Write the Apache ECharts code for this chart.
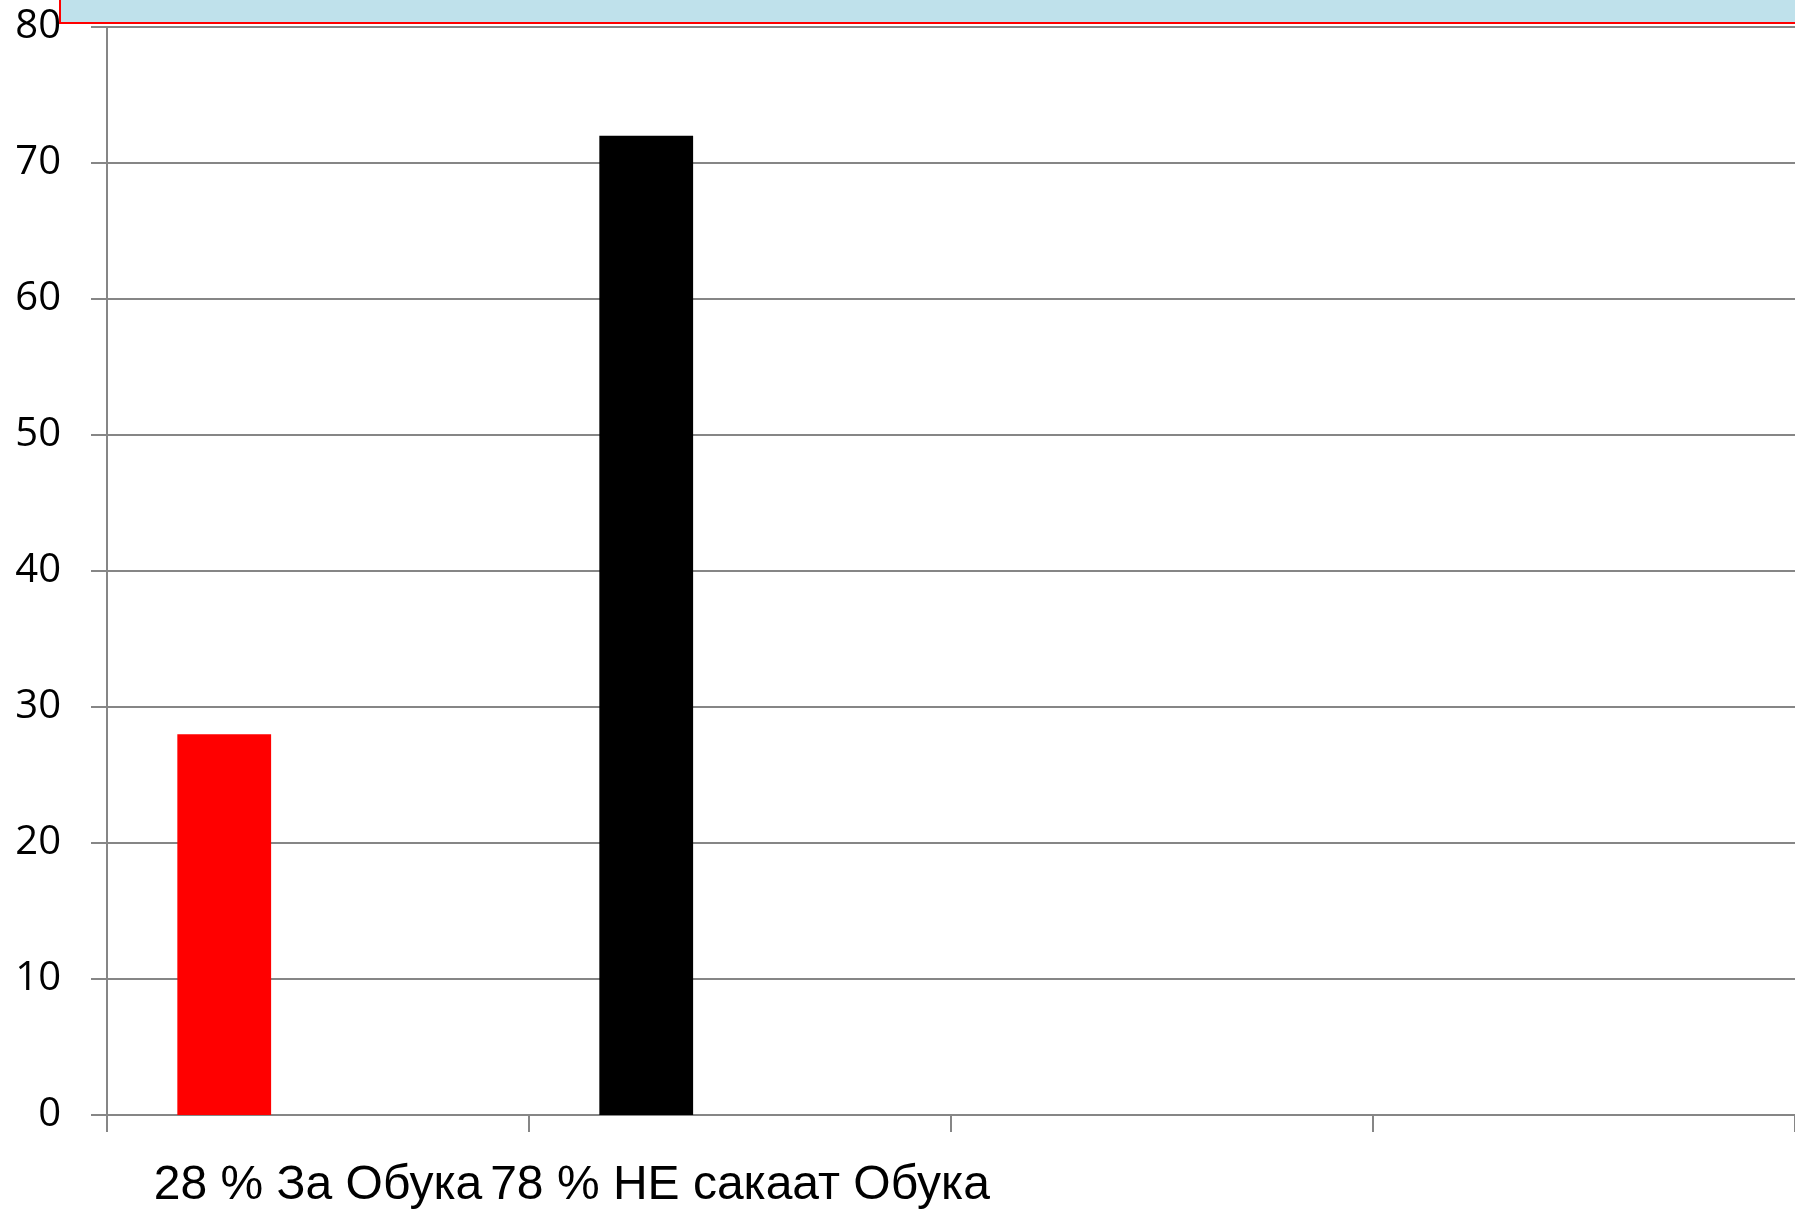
<!DOCTYPE html>
<html>
<head>
<meta charset="utf-8">
<script src="https://cdn.jsdelivr.net/npm/echarts@6/dist/echarts.min.js"></script>
<style>
html,body{margin:0;padding:0;background:#fff;}
#chart{width:1795px;height:1212px;}
</style>
</head>
<body>
<div id="chart"></div>
<script>
// Data
const categories = ['28 % За Обука', '78 % НЕ сакаат Обука', '', ''];
const series1Values = [28, 72];
const series2Values = [];
const series3Values = [];
const yTicks = { min: 0, max: 80, interval: 10 };

// Styles
const pointColors = ['#FF0000', '#000000'];
const axisGray = '#868686';

const chart = echarts.init(document.getElementById('chart'));
chart.setOption({
  animation: false,
  backgroundColor: '#ffffff',
  grid: { left: 107, right: -6, top: 27, bottom: 97, containLabel: false },
  xAxis: {
    type: 'category',
    data: categories,
    boundaryGap: true,
    axisLine: { show: true, lineStyle: { color: axisGray, width: 2 } },
    axisTick: { show: true, alignWithLabel: false, interval: 0, length: 17, lineStyle: { color: axisGray, width: 2 } },
    axisLabel: {
      interval: 0, margin: 47, color: '#000', fontSize: 48,
      fontFamily: '"Liberation Sans", Arial, sans-serif'
    },
    splitLine: { show: false }
  },
  yAxis: {
    type: 'value',
    min: yTicks.min, max: yTicks.max, interval: yTicks.interval,
    axisLine: { show: true, lineStyle: { color: axisGray, width: 2 } },
    axisTick: { show: true, length: 16, lineStyle: { color: axisGray, width: 2 } },
    axisLabel: { margin: 46, color: '#000', fontSize: 40, fontFamily: '"Open Sans", sans-serif', padding: [6, 0, 0, 0] },
    splitLine: { show: true, lineStyle: { color: axisGray, width: 2 } }
  },
  series: [
    {
      name: 'Series 1', type: 'bar', barGap: 0, barCategoryGap: '33.333%',
      data: series1Values.map((v, i) => ({ value: v, itemStyle: { color: pointColors[i] } }))
    },
    { name: 'Series 2', type: 'bar', barGap: 0, barCategoryGap: '33.333%', data: series2Values },
    { name: 'Series 3', type: 'bar', barGap: 0, barCategoryGap: '33.333%', data: series3Values }
  ],
  graphic: [
    {
      type: 'rect', z: 100,
      shape: { x: 60, y: -10, width: 1800, height: 33 },
      style: { fill: '#BFE1EB', stroke: '#FF0000', lineWidth: 2 }
    }
  ]
});
</script>
</body>
</html>
